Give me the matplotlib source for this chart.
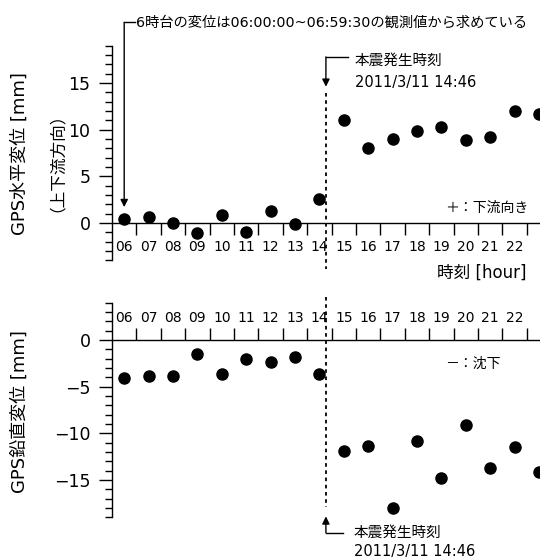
import matplotlib
matplotlib.use("Agg")
import matplotlib.pyplot as plt
from matplotlib.ticker import FixedLocator, MultipleLocator

plt.rcParams["font.family"] = ["DejaVu Sans", "Noto Sans CJK JP"]

# hourly displacement (hour bins 06..23, plotted at the middle of each hour)
hours = list(range(6, 24))
horiz = [0.45, 0.65, -0.05, -1.05, 0.9, -1.0, 1.25, -0.15, 2.55,
         11.05, 8.0, 9.0, 9.85, 10.25, 8.85, 9.2, 12.0, 11.65]
vert = [-4.1, -3.85, -3.85, -1.45, -3.6, -2.0, -2.4, -1.85, -3.6,
        -11.9, -11.4, -18.0, -10.8, -14.75, -9.1, -13.7, -11.5, -14.1]
hour_labels = ["%02d" % h for h in range(6, 23)]
quake_hour = 14 + 46 / 60

xmid = [h + 0.5 for h in hours]

fig = plt.figure(figsize=(5.4, 5.58), dpi=100)
ax1 = fig.add_axes([0.2074, 0.5335, 0.7926, 0.3846])
ax2 = fig.add_axes([0.2074, 0.0729, 0.7926, 0.3846])


def style_axis(ax, ylim, xside):
    ax.set_xlim(6, 23.54)
    ax.set_ylim(*ylim)
    for s in ["right", "top", "bottom"]:
        ax.spines[s].set_visible(False)
    ax.spines[xside].set_visible(True)
    ax.spines[xside].set_position(("data", 0))
    for s in ["left", xside]:
        ax.spines[s].set_linewidth(1.0)
    ax.yaxis.set_major_locator(MultipleLocator(5))
    ax.yaxis.set_minor_locator(MultipleLocator(1))
    ax.tick_params(axis="y", which="major", direction="out", length=9.5, width=1.0,
                   labelsize=12.5, pad=6)
    ax.tick_params(axis="y", which="minor", direction="out", length=4.8, width=1.0)
    ax.xaxis.set_ticks_position(xside)
    ax.xaxis.set_major_locator(FixedLocator(range(7, 24)))
    ax.xaxis.set_major_formatter(plt.NullFormatter())
    ax.xaxis.set_minor_locator(FixedLocator([h + 0.5 for h in range(6, 23)]))
    ax.set_xticklabels(hour_labels, minor=True)
    ax.tick_params(axis="x", which="major", direction="out", length=8.5, width=1.0)
    ax.tick_params(axis="x", which="minor", length=0, labelsize=10,
                   pad=12 if xside == "bottom" else 10.5)
    if xside == "top":
        ax.tick_params(axis="x", which="both", labeltop=True, labelbottom=False)


style_axis(ax1, (-4, 19), "bottom")
style_axis(ax2, (-19, 4), "top")

ax1.plot(xmid, horiz, "o", color="black", markersize=8, clip_on=True)
ax2.plot(xmid, vert, "o", color="black", markersize=8, clip_on=True)

# earthquake time line
ax1.plot([quake_hour, quake_hour], [13.9, -4.9], color="black", lw=1.3,
         linestyle=(0, (2, 2)), clip_on=False)
ax2.plot([quake_hour, quake_hour], [4.6, -17.9], color="black", lw=1.3,
         linestyle=(0, (2, 2)), clip_on=False)

arrow = dict(arrowstyle="-|>", color="black", lw=1.0, mutation_scale=11,
             shrinkA=0, shrinkB=0)

# note on 6 o'clock bin
ax1.plot([6.5, 6.95], [21.5, 21.5], color="black", lw=1.0, clip_on=False)
ax1.annotate("", xy=(6.5, 1.7), xytext=(6.5, 21.5), arrowprops=arrow,
             annotation_clip=False)
ax1.text(7.0, 21.5, "6時台の変位は06:00:00~06:59:30の観測値から求めている",
         fontsize=10.3, ha="left", va="center")

# main shock note, upper
ax1.plot([quake_hour, 15.67], [17.8, 17.8], color="black", lw=1.0, clip_on=False)
ax1.annotate("", xy=(quake_hour, 14.6), xytext=(quake_hour, 17.8), arrowprops=arrow,
             annotation_clip=False)
ax1.text(15.96, 17.45, "本震発生時刻", fontsize=10.5, ha="left", va="center")
ax1.text(15.96, 15.1, "2011/3/11 14:46", fontsize=10.5, ha="left", va="center")

# main shock note, lower
ax2.plot([quake_hour, 15.47], [-20.65, -20.65], color="black", lw=1.0, clip_on=False)
ax2.annotate("", xy=(quake_hour, -18.9), xytext=(quake_hour, -20.65), arrowprops=arrow,
             annotation_clip=False)
ax2.text(15.92, -20.65, "本震発生時刻", fontsize=10.5, ha="left", va="center")
ax2.text(15.92, -22.7, "2011/3/11 14:46", fontsize=10.5, ha="left", va="center")

ax1.text(19.67, 1.6, "＋：下流向き", fontsize=10, ha="left", va="center")
ax2.text(19.65, -2.55, "－：沈下", fontsize=10, ha="left", va="center")
ax1.text(23.0, -5.36, "時刻 [hour]", fontsize=12, ha="right", va="center")

fig.text(0.037, 0.724, "GPS水平変位 [mm]", rotation=90, fontsize=13,
         ha="center", va="center")
fig.text(0.089, 0.724, "（上下流方向）", rotation=90, fontsize=12,
         ha="center", va="center")
fig.text(0.037, 0.2625, "GPS鉛直変位 [mm]", rotation=90, fontsize=13,
         ha="center", va="center")

fig.savefig("out.png", dpi=100)
